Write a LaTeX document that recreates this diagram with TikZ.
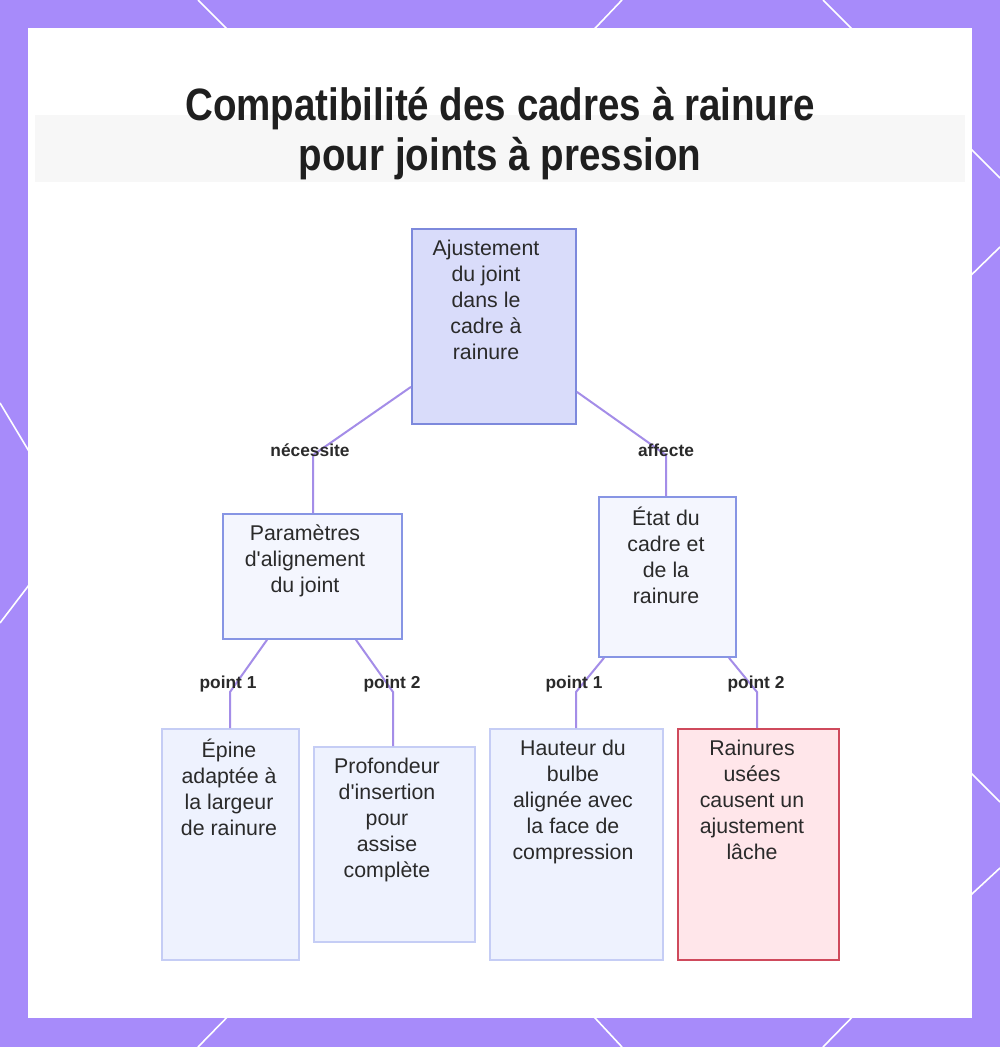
\documentclass[tikz,border=0pt]{standalone}
\usepackage{fontspec}
\setmainfont{Liberation Sans}[Ligatures=TeXOff]
\newfontfamily\titlefont[FakeStretch=0.85]{Liberation Sans}
\usetikzlibrary{calc}
\definecolor{bgpurple}{HTML}{A78BFA}
\definecolor{edgecol}{HTML}{A48DE8}
\definecolor{mainfill}{HTML}{D9DCFA}
\definecolor{mainbord}{HTML}{7D89DC}
\definecolor{midfill}{HTML}{F4F6FE}
\definecolor{midbord}{HTML}{8795E4}
\definecolor{leaffill}{HTML}{EEF2FE}
\definecolor{leafbord}{HTML}{C5CDF5}
\definecolor{redfill}{HTML}{FFE6EA}
\definecolor{redbord}{HTML}{CF4A5C}
\definecolor{txtcol}{HTML}{2A2A2A}
\tikzset{
  box/.style={draw, line width=1.4pt, rectangle, anchor=north west, inner sep=0pt},
  mainbox/.style={box, fill=mainfill, draw=mainbord},
  midbox/.style={box, fill=midfill, draw=midbord},
  leafbox/.style={box, fill=leaffill, draw=leafbord},
  redbox/.style={box, fill=redfill, draw=redbord},
  txt/.style={anchor=north, align=center, inner sep=0pt, text=txtcol,
    font=\fontsize{16pt}{19.5pt}\selectfont},
  lbl/.style={inner sep=0pt, text=txtcol, font=\fontsize{13pt}{15pt}\selectfont\bfseries},
  edge/.style={draw=edgecol, line width=1.5pt},
  hexline/.style={draw=white, line width=1.2pt}
}
\begin{document}
\begin{tikzpicture}[x=0.75pt,y=-0.75pt]
\useasboundingbox (0,0) rectangle (1000,1047);
% background
\fill[bgpurple] (0,0) rectangle (1000,1047);
\foreach \a/\b/\c/\d in {198/0/240/42, 622/0/582/42, 823/0/865/42,
  240/1004/198/1047, 582/1004/622/1047, 865/1004/823/1047,
  0/403/45/478, 45/564/0/623,
  1000/178/960/138, 1000/247/960/286, 1000/802/960/762, 1000/868/960/905}
  \draw[hexline] (\a,\b) -- (\c,\d);
\fill[white] (28,28) rectangle (972,1018);
% faint blurred header band
\fill[gray!6] (35,115) rectangle (965,182);
% title
\node[font=\titlefont\fontsize{34pt}{37.5pt}\selectfont\bfseries, text=black!88, align=center] (title) at (500,134)
  {Compatibilité des cadres à rainure\\pour joints à pression};
% nodes
\node[mainbox, minimum width=123pt, minimum height=146.25pt] (A) at (411,228) {};
\node[txt] (At) at (486,240) {Ajustement\\du joint\\dans le\\cadre à\\rainure};
\node[midbox, minimum width=134.25pt, minimum height=93.75pt] (B) at (222,513) {};
\node[txt] (Bt) at (305,525) {Paramètres\\d'alignement\\du joint};
\node[midbox, minimum width=102.75pt, minimum height=120pt] (C) at (598,496) {};
\node[txt] (Ct) at (666,507) {État du\\cadre et\\de la\\rainure};
\node[leafbox, minimum width=102.75pt, minimum height=173.25pt] (D) at (161,728) {};
\node[txt] (Dt) at (229,739) {Épine\\adaptée à\\la largeur\\de rainure};
\node[leafbox, minimum width=120.75pt, minimum height=146.25pt] (E) at (313,746) {};
\node[txt] (Et) at (387,758) {Profondeur\\d'insertion\\pour\\assise\\complète};
\node[leafbox, minimum width=129.75pt, minimum height=173.25pt] (F) at (489,728) {};
\node[txt] (Ft) at (573,740) {Hauteur du\\bulbe\\alignée avec\\la face de\\compression};
\node[redbox, minimum width=120.75pt, minimum height=173.25pt] (G) at (677,728) {};
\node[txt] (Gt) at (752,740) {Rainures\\usées\\causent un\\ajustement\\lâche};
% bend coordinates
\coordinate (ab) at (313,455);
\coordinate (ac) at (666,455);
\coordinate (bd) at (230,692);
\coordinate (be) at (393,692);
\coordinate (cf) at (576,692);
\coordinate (cg) at (757,692);
% edges
\draw[edge] ([yshift=28.5pt]A.south west) -- (ab) -- (ab |- B.north);
\draw[edge] ([yshift=24.75pt]A.south east) -- (ac) -- (ac |- C.north);
\draw[edge] (B.south -| 267,0) -- (bd) -- (bd |- D.north);
\draw[edge] (B.south -| 356,0) -- (be) -- (be |- E.north);
\draw[edge] (C.south -| 604,0) -- (cf) -- (cf |- F.north);
\draw[edge] (C.south -| 729,0) -- (cg) -- (cg |- G.north);
% labels
\node[lbl] (l1) at (310,450) {nécessite};
\node[lbl] (l2) at (666,450) {affecte};
\node[lbl] (l3) at (228,684) {point 1};
\node[lbl] (l4) at (392,684) {point 2};
\node[lbl] (l5) at (574,684) {point 1};
\node[lbl] (l6) at (756,684) {point 2};
\end{tikzpicture}
\end{document}
